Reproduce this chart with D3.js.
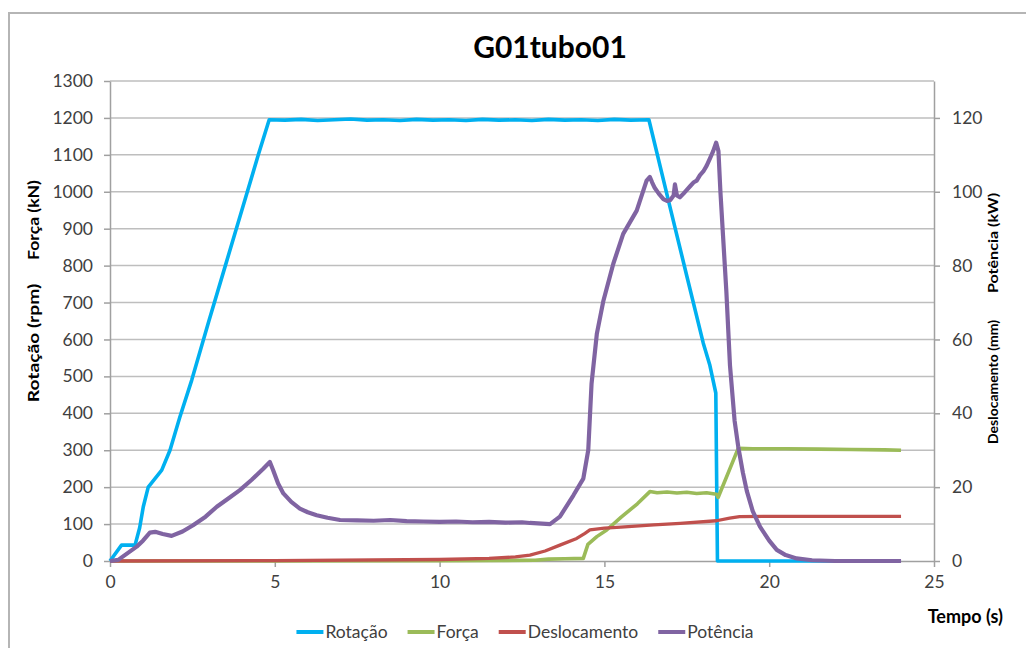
<!DOCTYPE html>
<html>
<head>
<meta charset="utf-8">
<script src="https://cdn.jsdelivr.net/npm/d3@7"></script>
<style>
  html, body { margin: 0; padding: 0; background: #fff; }
  svg { display: block; }
  text { font-family: Lato, "Open Sans", sans-serif; fill: #404040; }
</style>
</head>
<body>
<svg id="chart" width="1026" height="648"></svg>
<script>
// ---- data: time (s) and value pairs for each series ----
const titleText = "G01tubo01";
const xTicks = [0, 5, 10, 15, 20, 25];
const leftTicks = [0, 100, 200, 300, 400, 500, 600, 700, 800, 900, 1000, 1100, 1200, 1300];
const rightTicks = [0, 20, 40, 60, 80, 100, 120];
const seriesNames = ["Rotação", "Força", "Deslocamento", "Potência"];

// Rotação (rpm) – left axis
const rotacao = [
  [0, 0], [0.35, 43], [0.76, 43], [0.9, 90], [1.01, 147], [1.16, 200], [1.57, 246],
  [1.82, 300], [2.12, 390], [2.48, 490], [3.0, 650], [3.5, 800], [4.0, 950],
  [4.5, 1100], [4.83, 1195], [5.3, 1194], [5.8, 1196], [6.3, 1193], [6.8, 1195],
  [7.3, 1197], [7.8, 1194], [8.3, 1195], [8.8, 1193], [9.3, 1196], [9.8, 1194],
  [10.3, 1195], [10.8, 1193], [11.3, 1196], [11.8, 1194], [12.3, 1195], [12.8, 1193],
  [13.3, 1196], [13.8, 1194], [14.3, 1195], [14.8, 1193], [15.3, 1196], [15.8, 1194],
  [16.35, 1195], [17.0, 955], [17.5, 772], [18.0, 590], [18.2, 530], [18.38, 455],
  [18.43, 0], [20, 0], [22, 0], [24, 0]
];

// Força (kN) – left axis
const forca = [
  [0, 0], [5, 0], [10, 1], [12.9, 2], [13.3, 5], [13.8, 6], [14.36, 7], [14.5, 45],
  [14.77, 66], [15.07, 84], [15.5, 118], [16.0, 155], [16.38, 188], [16.6, 185],
  [16.9, 187], [17.2, 184], [17.5, 186], [17.8, 183], [18.1, 185], [18.4, 181],
  [18.45, 172], [19.06, 305], [19.5, 304], [20.5, 304], [21.5, 303], [22.5, 302],
  [23.5, 301], [24, 300]
];

// Deslocamento (mm) – right axis
const deslocamento = [
  [0, 0], [5, 0.1], [10, 0.4], [11.5, 0.7], [12.3, 1.1], [12.74, 1.6], [13.2, 2.7],
  [13.65, 4.3], [14.16, 6.1], [14.41, 7.5], [14.56, 8.4], [15.0, 8.9], [15.5, 9.2],
  [16.5, 9.8], [17.3, 10.2], [18.4, 10.9], [18.8, 11.6], [19.1, 12], [20, 12.1],
  [22, 12.1], [24, 12.1]
];

// Potência (kW) – right axis
const potencia = [
  [0, 0], [0.25, 0.3], [0.45, 1.6], [0.81, 3.9], [1.0, 5.5], [1.21, 7.7], [1.37, 7.9],
  [1.6, 7.3], [1.87, 6.8], [2.2, 8], [2.52, 9.7], [2.9, 12], [3.24, 14.7], [3.6, 17],
  [3.94, 19.2], [4.3, 22], [4.65, 25], [4.85, 26.8], [4.95, 24.6], [5.1, 21],
  [5.26, 18.3], [5.5, 16], [5.76, 14.2], [6.0, 13.2], [6.27, 12.4], [6.6, 11.7],
  [6.98, 11.1], [7.5, 11.0], [8.0, 10.9], [8.5, 11.1], [9.0, 10.8], [9.5, 10.7],
  [10.0, 10.6], [10.5, 10.7], [11.0, 10.5], [11.5, 10.6], [12.0, 10.4], [12.5, 10.5],
  [12.74, 10.3], [13.35, 10.0], [13.65, 12], [14.06, 17.8], [14.36, 22.3], [14.51, 30],
  [14.61, 48], [14.77, 61.5], [14.97, 70.5], [15.27, 80.5], [15.57, 88.6], [15.98, 94.9],
  [16.28, 103], [16.38, 104], [16.45, 102.5], [16.53, 101], [16.65, 99.5], [16.79, 98],
  [16.9, 97.5], [17.0, 97.8], [17.1, 99], [17.14, 102], [17.2, 99], [17.29, 98.5],
  [17.4, 99.5], [17.5, 100.5], [17.6, 101.5], [17.7, 102.5], [17.8, 103], [17.9, 104.5],
  [18.0, 105.5], [18.1, 107], [18.2, 109], [18.3, 111], [18.39, 113.3], [18.46, 111],
  [18.52, 100], [18.6, 88], [18.7, 73], [18.81, 53], [18.95, 38], [19.06, 31],
  [19.2, 24], [19.32, 19], [19.5, 13.5], [19.72, 9.3], [20.0, 5.5], [20.23, 3],
  [20.5, 1.6], [20.83, 0.7], [21.3, 0.2], [22, 0], [24, 0]
];

const colors = ["#00B0F0", "#9BBB59", "#C0504D", "#8064A2"];

// ---- layout ----
const svg = d3.select("#chart");
const plot = { left: 110, right: 934, top: 81, bottom: 561 };

const x = d3.scaleLinear().domain([0, 25]).range([plot.left, plot.right]);
const yL = d3.scaleLinear().domain([0, 1300]).range([plot.bottom, plot.top]);
const yR = d3.scaleLinear().domain([0, 130]).range([plot.bottom, plot.top]);

// outer chart frame
svg.append("rect")
  .attr("x", 9).attr("y", 13).attr("width", 1040).attr("height", 660)
  .attr("fill", "#fff").attr("stroke", "#B5B5B5").attr("stroke-width", 2);

// horizontal gridlines
svg.append("g").selectAll("line")
  .data(leftTicks.filter(d => d > 0))
  .join("line")
  .attr("x1", plot.left).attr("x2", plot.right)
  .attr("y1", d => yL(d)).attr("y2", d => yL(d))
  .attr("stroke", "#BEBEBE").attr("stroke-width", 1.5);

// axes
const axisColor = "#A0A0A0";
function styleAxis(g) {
  g.select(".domain").attr("stroke", axisColor).attr("stroke-width", 1.5);
  g.selectAll(".tick line").attr("stroke", axisColor).attr("stroke-width", 1.5);
  g.selectAll(".tick text").attr("fill", "#404040").style("font-size", "17.5px")
    .style("font-family", "Lato, 'Open Sans', sans-serif");
}
const fmt = d3.format("d");

svg.append("g")
  .attr("transform", `translate(${plot.left},0)`)
  .call(d3.axisLeft(yL).tickValues(leftTicks).tickFormat(fmt).tickSize(6).tickPadding(11).tickSizeOuter(0))
  .call(styleAxis);

svg.append("g")
  .attr("transform", `translate(${plot.right},0)`)
  .call(d3.axisRight(yR).tickValues(rightTicks).tickFormat(fmt).tickSize(6).tickPadding(12).tickSizeOuter(0))
  .call(styleAxis);

svg.append("g")
  .attr("transform", `translate(0,${plot.bottom})`)
  .call(d3.axisBottom(x).tickValues(xTicks).tickFormat(fmt).tickSize(6).tickPadding(9).tickSizeOuter(0))
  .call(styleAxis);

// series lines
const lineL = d3.line().x(d => x(d[0])).y(d => yL(d[1]));
const lineR = d3.line().x(d => x(d[0])).y(d => yR(d[1]));
const seriesDefs = [
  { data: rotacao, gen: lineL, color: colors[0], w: 3.6 },
  { data: forca, gen: lineL, color: colors[1], w: 3.6 },
  { data: deslocamento, gen: lineR, color: colors[2], w: 3.3 },
  { data: potencia, gen: lineR, color: colors[3], w: 4.2 }
];
svg.append("g").selectAll("path")
  .data(seriesDefs)
  .join("path")
  .attr("d", d => d.gen(d.data))
  .attr("fill", "none")
  .attr("stroke", d => d.color)
  .attr("stroke-width", d => d.w)
  .attr("stroke-linejoin", "round")
  .attr("stroke-linecap", "butt");

// title
svg.append("text")
  .attr("x", 550).attr("y", 58)
  .attr("text-anchor", "middle")
  .style("font-size", "30px").style("font-weight", "bold")
  .style("fill", "#000")
  .text(titleText);

// axis titles (rotated, slightly stretched along their length)
function vTitle(txt, cx, cy, size, stretch) {
  svg.append("text")
    .attr("transform", `translate(${cx},${cy}) rotate(-90) scale(${stretch},1)`)
    .attr("text-anchor", "middle").attr("dy", "0.35em")
    .style("font-size", size + "px").style("font-weight", "bold").style("fill", "#000")
    .text(txt);
}
vTitle("Força (kN)", 33, 220, 16, 1.1);
vTitle("Rotação (rpm)", 33, 343, 16, 1.2);
vTitle("Potência (kW)", 993, 243, 14, 1.15);
vTitle("Deslocamento (mm)", 993, 382, 14, 1.0);

svg.append("text")
  .attr("x", 1003).attr("y", 623).attr("text-anchor", "end")
  .style("font-size", "18px").style("font-weight", "bold").style("fill", "#000")
  .text("Tempo (s)");

// legend
const legend = svg.append("g");
const items = seriesNames.map((name, i) => {
  const g = legend.append("g");
  g.append("line").attr("x1", 0).attr("x2", 27).attr("y1", 0).attr("y2", 0)
    .attr("stroke", colors[i]).attr("stroke-width", 4);
  const t = g.append("text").attr("x", 29).attr("dy", "0.35em")
    .style("font-size", "17.5px").style("fill", "#404040").text(name);
  return { g, w: 29 + t.node().getComputedTextLength() };
});
const gap = 20;
const total = d3.sum(items, d => d.w) + gap * (items.length - 1);
let cx = 525 - total / 2;
items.forEach(it => {
  it.g.attr("transform", `translate(${cx},632)`);
  cx += it.w + gap;
});
</script>
</body>
</html>
